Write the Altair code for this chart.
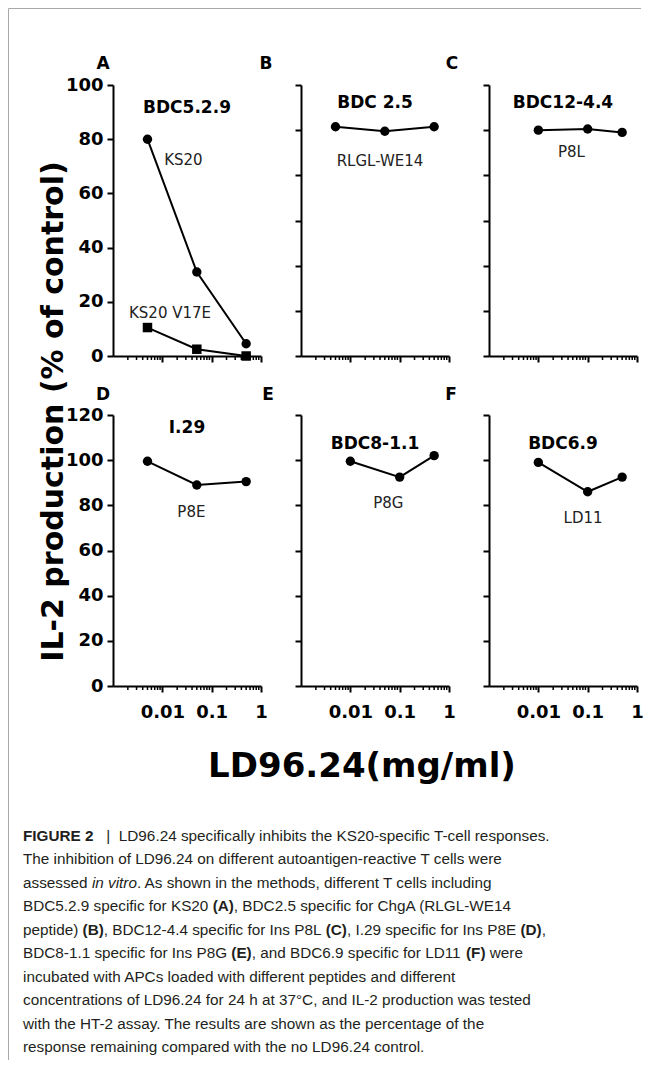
import altair as alt
import pandas as pd

# ---------------- data ----------------
panels = ["A", "B", "C", "D", "E", "F"]
panel_titles = ["BDC5.2.9", "BDC 2.5", "BDC12-4.4", "I.29", "BDC8-1.1", "BDC6.9"]
title_y = [91.5, 112, 112, 114.3, 107, 107.3]
y_max = [100, 120, 120, 120, 120, 120]

conc_A = [0.005, 0.05, 0.5]
ks20 = [80, 31, 4.5]
ks20_v17e = [10.5, 2.5, 0]
conc_B = [0.005, 0.05, 0.5]
rlgl_we14 = [101.5, 99.5, 101.5]
conc_C = [0.01, 0.1, 0.5]
p8l = [100, 100.5, 99]
conc_D = [0.005, 0.05, 0.5]
p8e = [99.5, 89, 90.5]
conc_E = [0.01, 0.1, 0.5]
p8g = [99.5, 92.5, 102]
conc_F = [0.01, 0.1, 0.5]
ld11 = [99, 86, 92.5]

label_names = ["KS20", "KS20 V17E", "RLGL-WE14", "P8L", "P8E", "P8G", "LD11"]
label_panel = ["A", "A", "B", "C", "D", "E", "F"]
label_x = [0.0267, 0.0143, 0.040, 0.047, 0.0388, 0.059, 0.0807]
label_y = [72.2, 15.8, 86.5, 90.2, 77.1, 81.2, 74.5]

x_ticks = [0.01, 0.1, 1]
x_minor = [0.002, 0.003, 0.004, 0.005, 0.006, 0.007, 0.008, 0.009,
           0.02, 0.03, 0.04, 0.05, 0.06, 0.07, 0.08, 0.09,
           0.2, 0.3, 0.4, 0.5, 0.6, 0.7, 0.8, 0.9]
y_ticks_100 = [0, 20, 40, 60, 80, 100]
y_ticks_120 = [0, 20, 40, 60, 80, 100, 120]

y_title = "IL-2 production (% of control)"
x_title = "LD96.24(mg/ml)"

caption_lines = [
    [("FIGURE 2", "b"), ("   |", "n"), ("  LD96.24 specifically inhibits the KS20-specific T-cell responses.", "n")],
    [("The inhibition of LD96.24 on different autoantigen-reactive T cells were", "n")],
    [("assessed ", "n"), ("in vitro", "i"), (". As shown in the methods, different T cells including", "n")],
    [("BDC5.2.9 specific for KS20 ", "n"), ("(A)", "b"), (", BDC2.5 specific for ChgA (RLGL-WE14", "n")],
    [("peptide) ", "n"), ("(B)", "b"), (", BDC12-4.4 specific for Ins P8L ", "n"), ("(C)", "b"),
     (", I.29 specific for Ins P8E ", "n"), ("(D)", "b"), (",", "n")],
    [("BDC8-1.1 specific for Ins P8G ", "n"), ("(E)", "b"), (", and BDC6.9 specific for LD11 ", "n"),
     ("(F)", "b"), (" were", "n")],
    [("incubated with APCs loaded with different peptides and different", "n")],
    [("concentrations of LD96.24 for 24 h at 37°C, and IL-2 production was tested", "n")],
    [("with the HT-2 assay. The results are shown as the percentage of the", "n")],
    [("response remaining compared with the no LD96.24 control.", "n")],
]

# ---------------- tables ----------------
rows = []
def add(panel, series, marker, xs, ys):
    for x, y in zip(xs, ys):
        rows.append(dict(panel=panel, series=series, marker=marker, conc=x, val=y))

add("A", "KS20", "circle", conc_A, ks20)
add("A", "KS20 V17E", "square", conc_A, ks20_v17e)
add("B", "RLGL-WE14", "circle", conc_B, rlgl_we14)
add("C", "P8L", "circle", conc_C, p8l)
add("D", "P8E", "circle", conc_D, p8e)
add("E", "P8G", "circle", conc_E, p8g)
add("F", "LD11", "circle", conc_F, ld11)
df = pd.DataFrame(rows)

lab_df = pd.DataFrame(dict(panel=label_panel, name=label_names, lx=label_x, ly=label_y))
ttl_df = pd.DataFrame(dict(panel=panels, title=panel_titles, tx=[0.0316] * 6, ty=title_y))
minor_df = pd.DataFrame(dict(m=x_minor))
one = pd.DataFrame(dict(k=[0]))

# ---------------- styling / layout ----------------
W, H = 148, 271
BFONT = "DejaVu Sans"
CFONT = "Liberation Sans"
CAP_SIZE = 15.3
xscale = alt.Scale(type="log", domain=[0.001, 1], nice=False)

letter_dx = [-10, -35, -37, -10, -33, -38]
letter_dy = [-21, -21, -21, -20, -20, -20]


def make_panel(i):
    p = panels[i]
    row2 = i >= 3
    first_col = (i % 3) == 0
    ys = alt.Scale(domain=[0, y_max[i]], nice=False, zero=True)
    yvals = y_ticks_100 if y_max[i] == 100 else y_ticks_120
    xax = alt.Axis(values=x_ticks, labels=row2, format=".2~f", title=None, labelPadding=11)
    yax = alt.Axis(values=yvals, labels=first_col, title=None, labelPadding=4)

    def X(f):
        return alt.X(f, scale=xscale, axis=xax)

    def Y(f):
        return alt.Y(f, scale=ys, axis=yax)

    d = df[df["panel"] == p]
    layers = []
    layers.append(
        alt.Chart(d).mark_line(color="black", strokeWidth=2).encode(
            x=X("conc:Q"), y=Y("val:Q"), detail="series:N",
        )
    )
    dc = d[d["marker"] == "circle"]
    layers.append(
        alt.Chart(dc).mark_point(shape="circle", filled=True, color="black", opacity=1, size=88).encode(
            x=X("conc:Q"), y=Y("val:Q"),
        )
    )
    dsq = d[d["marker"] == "square"]
    if len(dsq):
        layers.append(
            alt.Chart(dsq).mark_point(shape="square", filled=True, color="black", opacity=1, size=90).encode(
                x=X("conc:Q"), y=Y("val:Q"),
            )
        )
    layers.append(
        alt.Chart(minor_df).mark_rule(color="black", strokeWidth=1.5).encode(
            x=X("m:Q"), y=alt.value(H), y2=alt.value(H + 4),
        )
    )
    layers.append(
        alt.Chart(lab_df[lab_df["panel"] == p]).mark_text(
            font=BFONT, fontSize=15, color="#222222"
        ).encode(x=X("lx:Q"), y=Y("ly:Q"), text="name:N")
    )
    layers.append(
        alt.Chart(ttl_df[ttl_df["panel"] == p]).mark_text(
            font=BFONT, fontWeight="bold", fontSize=17, color="black"
        ).encode(x=X("tx:Q"), y=Y("ty:Q"), text="title:N")
    )
    layers.append(
        alt.Chart(one).mark_text(
            text=p, font=BFONT, fontWeight="bold", fontSize=17, color="black"
        ).encode(x=alt.value(letter_dx[i]), y=alt.value(letter_dy[i]))
    )
    if i == 3:
        layers.append(
            alt.Chart(one).mark_text(
                text=y_title, font=BFONT, fontWeight="bold", fontSize=30, color="black", angle=270
            ).encode(x=alt.value(-59), y=alt.value(-3.5))
        )
    return alt.layer(*layers).properties(width=W, height=H)


# ---------------- caption (Arial-metric widths for inline bold / italic) ----------------
REG_W = {" ": 278, ".": 278, ",": 278, "(": 333, ")": 333, "-": 333,
         "|": 260, "°": 400, "/": 278, "%": 889, ":": 278}
for c in "0123456789":
    REG_W[c] = 556
REG_W.update(dict(zip("ABCDEFGHIJKLMNOPQRSTUVWXYZ",
                      [667, 667, 722, 722, 667, 611, 778, 722, 278, 500, 667, 556, 833,
                       722, 778, 667, 778, 722, 667, 611, 722, 667, 944, 667, 667, 611])))
REG_W.update(dict(zip("abcdefghijklmnopqrstuvwxyz",
                      [556, 556, 500, 556, 556, 278, 556, 556, 222, 222, 500, 222, 833,
                       556, 556, 556, 556, 333, 500, 278, 556, 500, 722, 500, 500, 500])))
BOLD_W = {" ": 278, ".": 278, ",": 278, "(": 333, ")": 333}
for c in "0123456789":
    BOLD_W[c] = 556
BOLD_W.update(dict(zip("ABCDEFGHIJKLMNOPQRSTUVWXYZ",
                       [722, 722, 722, 722, 667, 611, 778, 722, 278, 556, 722, 611, 833,
                        722, 778, 667, 778, 722, 667, 611, 722, 667, 944, 667, 667, 611])))


def tw(s, sty):
    table = BOLD_W if sty == "b" else REG_W
    return sum(table.get(ch, 556) for ch in s) * CAP_SIZE / 1000.0


cap_rows = []
for li, segs in enumerate(caption_lines):
    cx = -90.0
    cy = 90.5 + 23.5 * li
    for txt, sty in segs:
        stripped = txt.lstrip(" ")
        lead = len(txt) - len(stripped)
        cap_rows.append(dict(px=cx + tw(" " * lead, sty), py=cy, txt=stripped, sty=sty))
        cx += tw(txt, sty)
cap_df = pd.DataFrame(cap_rows)


def cap_layer(sty, **kw):
    return alt.Chart(cap_df[cap_df["sty"] == sty]).mark_text(
        align="left", baseline="middle", font=CFONT, fontSize=CAP_SIZE, color="#231f20", **kw
    ).encode(
        x=alt.X("px:Q", scale=None, axis=None),
        y=alt.Y("py:Q", scale=None, axis=None),
        text="txt:N",
    )


frame_left = alt.Chart(one).mark_rule(color="#a8a8a8", strokeWidth=1).encode(
    x=alt.value(-104.5), y=alt.value(-736.5), y2=alt.value(315)
)
frame_top = alt.Chart(one).mark_rule(color="#a8a8a8", strokeWidth=1).encode(
    x=alt.value(-104.5), x2=alt.value(528), y=alt.value(-736.5)
)
xtitle = alt.Chart(one).mark_text(
    text=x_title, font=BFONT, fontWeight="bold", fontSize=34, color="black"
).encode(x=alt.value(249), y=alt.value(22))

cap_chart = alt.layer(
    frame_left, frame_top, xtitle,
    cap_layer("n"),
    cap_layer("b", fontWeight="bold"),
    cap_layer("i", fontStyle="italic"),
).properties(width=W, height=300)

chart = alt.concat(
    *[make_panel(i) for i in range(6)], cap_chart,
    columns=3,
    spacing={"row": 59, "column": 40},
    bounds="flush",
    padding=0,
    background="white",
).configure_view(strokeWidth=0).configure_axis(
    domainColor="black", domainWidth=2, tickColor="black", tickWidth=2, tickSize=6,
    labelFont=BFONT, labelFontWeight="bold", labelFontSize=18, labelColor="black",
    grid=False, labelFlush=False,
)

chart.save("out.html", embed_options={"renderer": "svg", "actions": False})
